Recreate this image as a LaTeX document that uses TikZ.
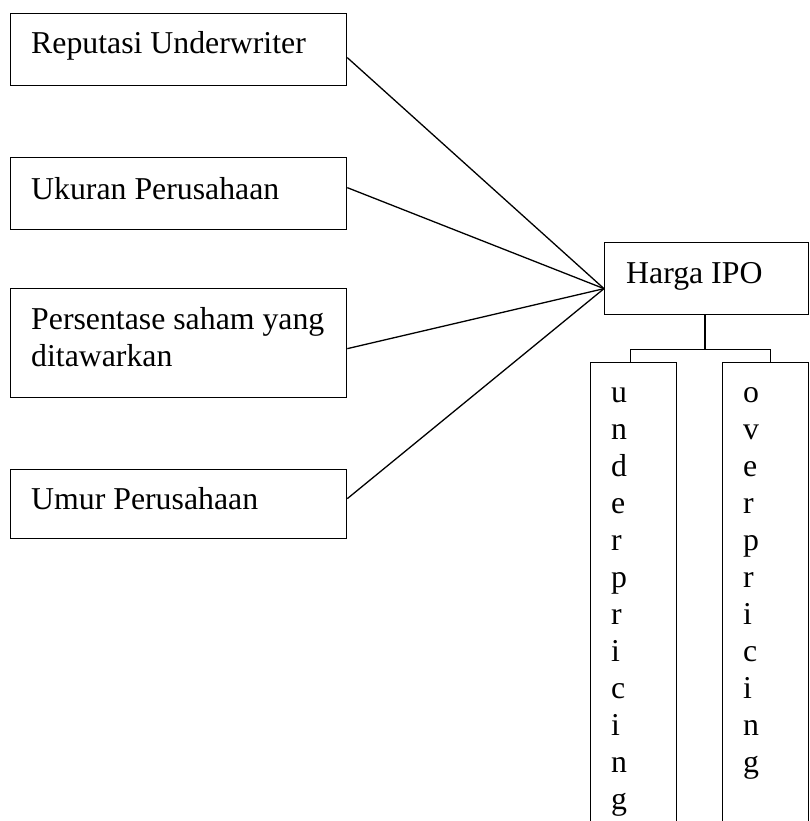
\documentclass[tikz,border=0pt]{standalone}
\usepackage{fontspec}
\setmainfont{Liberation Serif}
\usetikzlibrary{calc}
\begin{document}
\begin{tikzpicture}[x=1pt,y=-1pt,
  box/.style={draw, line width=1.3pt, anchor=north west, inner sep=0pt},
  txt/.style={anchor=base west, inner sep=0pt, font=\fontsize{31.8}{37}\selectfont},
  conn/.style={line width=1.3pt}]
\useasboundingbox (0,0) rectangle (809,821);
\clip (0,0) rectangle (809,821);
% left boxes
\node[box, minimum width=336pt, minimum height=72pt] (b1) at (10,13) {};
\node[box, minimum width=336pt, minimum height=72pt] (b2) at (10,157) {};
\node[box, minimum width=336pt, minimum height=109pt] (b3) at (10,288) {};
\node[box, minimum width=336pt, minimum height=69pt] (b4) at (10,469) {};
\node[txt] (t1) at ($(b1.north west)+(21,41)$) {Reputasi Underwriter};
\node[txt] (t2) at ($(b2.north west)+(21,42)$) {Ukuran Perusahaan};
\node[txt, align=left] (t3) at ($(b3.north west)+(21,78)$) {Persentase saham yang\\ditawarkan};
\node[txt] (t4) at ($(b4.north west)+(21,40)$) {Umur Perusahaan};
% target
\node[box, minimum width=203.5pt, minimum height=72pt] (h) at (604,242) {};
\node[txt] (th) at ($(h.north west)+(22,41)$) {Harga IPO};
% outcome boxes
\node[box, minimum width=86pt, minimum height=500pt] (u) at (590,362) {};
\node[box, minimum width=86pt, minimum height=500pt] (o) at (722,362) {};
\foreach \l [count=\i from 0] in {u,n,d,e,r,p,r,i,c,i,n,g}
  \node[txt] (u\i) at ($(u.north west)+(21,40.5+37*\i)$) {\l};
\foreach \l [count=\i from 0] in {o,v,e,r,p,r,i,c,i,n,g}
  \node[txt] (o\i) at ($(o.north west)+(21,40.5+37*\i)$) {\l};
% connectors
\draw[conn] ([yshift=-8pt]b1.east) -- ([yshift=-10pt]h.west);
\draw[conn] ([yshift=6pt]b2.east) -- ([yshift=-10pt]h.west);
\draw[conn] ([yshift=-5.5pt]b3.east) -- ([yshift=-10pt]h.west);
\draw[conn] ([yshift=5.5pt]b4.east) -- ([yshift=-10pt]h.west);
\coordinate (fork) at ($(h.south)+(-1.5,34)$);
\draw[conn] ([xshift=-1.5pt]h.south) -- (fork);
\draw[conn] ([xshift=-3pt]u.north) |- (fork) -| ([xshift=5pt]o.north);
\end{tikzpicture}
\end{document}
